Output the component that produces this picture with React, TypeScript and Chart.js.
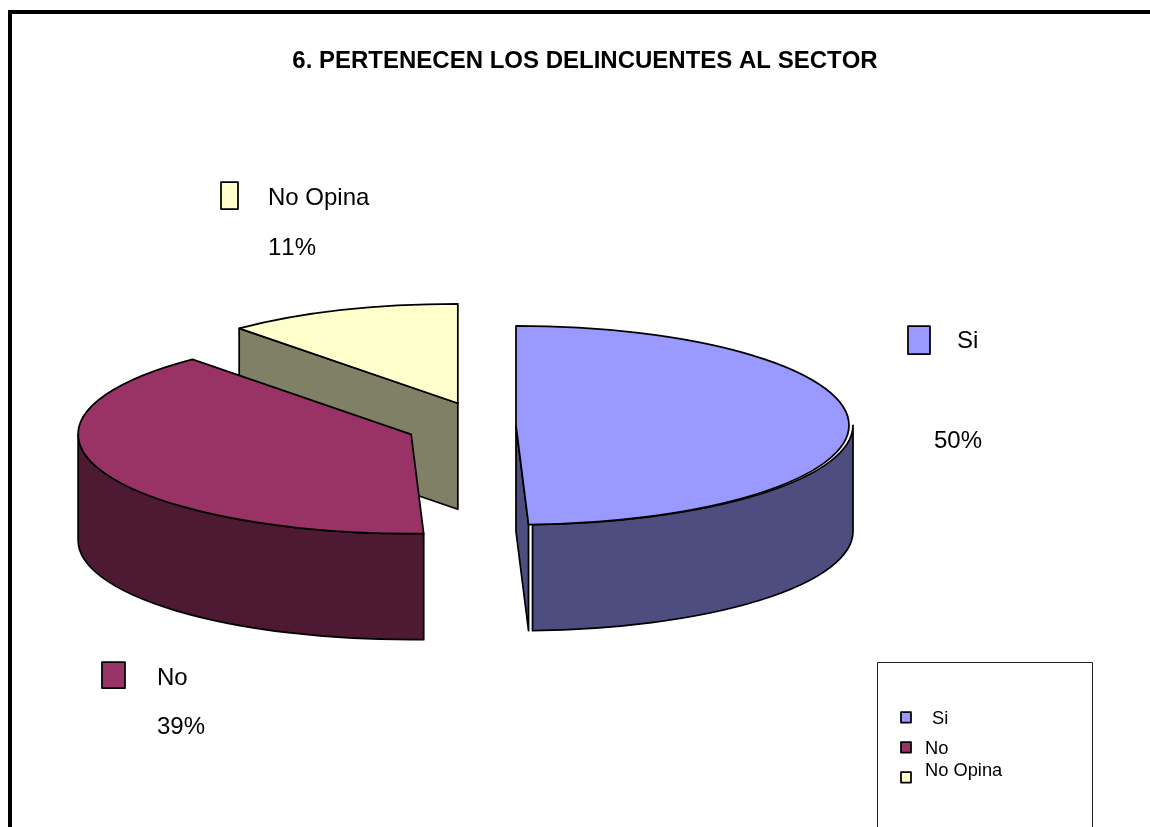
import React, { useEffect, useRef } from "react";
import { Chart, registerables } from "chart.js";

Chart.register(...registerables);

const titleText = "6. PERTENECEN LOS DELINCUENTES AL SECTOR";
const categories = ["Si", "No", "No Opina"];
const values = [49.4, 39.2, 11.4];
const percentLabels = ["50%", "39%", "11%"];
const topColors = ["#9999FF", "#993366", "#FFFFCC"];
const wallColors = ["#4D4D80", "#4D1933", "#808066"];
const explosion = [30.3, 80.2, 79.5];

const FONT = '"Liberation Sans", Arial, sans-serif';
const SQUASH = 0.2985;
const DEPTH = 106;
const RADIUS = 333;
const SI_WALL_SHIFT = 4;
const LINE = 1.75;

const labelLayout = [
  { box: [908, 326, 22, 28], nameX: 957, nameY: 341, pctX: 934, pctY: 441 },
  { box: [102, 662, 23, 26], nameX: 157, nameY: 678, pctX: 157, pctY: 727 },
  { box: [221, 182, 17, 27], nameX: 268, nameY: 198, pctX: 268, pctY: 248 },
];
const legendLayout = [
  { y: 712, textX: 932, textY: 719 },
  { y: 742, textX: 925, textY: 749 },
  { y: 772, textX: 925, textY: 771 },
];

const pie3d = {
  id: "pie3d",
  afterDatasetsUpdate(chart: any) {
    const a = chart.chartArea;
    const cx = (a.left + a.right) / 2;
    const cy = (a.top + a.bottom) / 2;
    chart.getDatasetMeta(0).data.forEach((arc: any, i: number) => {
      const mid = (arc.startAngle + arc.endAngle) / 2;
      arc.x = cx + Math.cos(mid) * explosion[i];
      arc.y = cy + Math.sin(mid) * explosion[i];
    });
  },
  beforeDraw(chart: any) {
    const ctx = chart.ctx;
    ctx.save();
    ctx.fillStyle = "#fff";
    ctx.fillRect(0, 0, chart.width, chart.height);
    ctx.strokeStyle = "#000";
    ctx.lineWidth = 4;
    ctx.strokeRect(10, 12, 1300, 1300);
    ctx.restore();
  },
  beforeDatasetsDraw(chart: any) {
    const ctx = chart.ctx;
    const a = chart.chartArea;
    const cy = (a.top + a.bottom) / 2;
    const sy = (y: number) => cy + (y - cy) * SQUASH;
    const arcs = chart.getDatasetMeta(0).data;
    ctx.save();
    ctx.lineWidth = LINE;
    ctx.strokeStyle = "#000";
    ctx.lineJoin = "round";

    const poly = (pts: number[][], color: string) => {
      ctx.beginPath();
      pts.forEach((p, n) => (n ? ctx.lineTo(p[0], p[1]) : ctx.moveTo(p[0], p[1])));
      ctx.closePath();
      ctx.fillStyle = color;
      ctx.fill();
      ctx.stroke();
    };
    const cutWall = (i: number, angle: number) => {
      const arc = arcs[i];
      const y0 = sy(arc.y);
      const ex = arc.x + Math.cos(angle) * arc.outerRadius;
      const ey = y0 + Math.sin(angle) * arc.outerRadius * SQUASH;
      poly(
        [
          [arc.x, y0],
          [ex, ey],
          [ex, ey + DEPTH],
          [arc.x, y0 + DEPTH],
        ],
        wallColors[i]
      );
    };
    const outerWall = (i: number, from: number, to: number, shift: number) => {
      const arc = arcs[i];
      const x = arc.x + shift;
      const y0 = sy(arc.y);
      const r = arc.outerRadius;
      ctx.beginPath();
      ctx.ellipse(x, y0, r, r * SQUASH, 0, from, to, false);
      ctx.ellipse(x, y0 + DEPTH, r, r * SQUASH, 0, to, from, true);
      ctx.closePath();
      ctx.fillStyle = wallColors[i];
      ctx.fill();
      ctx.stroke();
    };

    // back to front
    cutWall(2, arcs[2].startAngle);
    outerWall(1, arcs[1].startAngle, Math.PI, 0);
    outerWall(0, 0, arcs[0].endAngle, SI_WALL_SHIFT);
    cutWall(0, arcs[0].endAngle);
    ctx.restore();

    // the library's own arcs are drawn in a flattened space
    ctx.save();
    ctx.translate(0, cy);
    ctx.scale(1, SQUASH);
    ctx.translate(0, -cy);
  },
  afterDatasetsDraw(chart: any) {
    const ctx = chart.ctx;
    ctx.restore();
    const a = chart.chartArea;
    const cy = (a.top + a.bottom) / 2;
    const sy = (y: number) => cy + (y - cy) * SQUASH;
    const arcs = chart.getDatasetMeta(0).data;

    ctx.save();
    ctx.lineWidth = LINE;
    ctx.strokeStyle = "#000";
    ctx.lineJoin = "round";
    arcs.forEach((arc: any) => {
      const r = arc.outerRadius;
      ctx.beginPath();
      ctx.moveTo(arc.x, sy(arc.y));
      ctx.ellipse(arc.x, sy(arc.y), r, r * SQUASH, 0, arc.startAngle, arc.endAngle, false);
      ctx.closePath();
      ctx.stroke();
    });

    // title
    ctx.fontKerning = "none";
    ctx.fillStyle = "#000";
    ctx.textBaseline = "middle";
    ctx.textAlign = "center";
    ctx.font = `bold 24px ${FONT}`;
    ctx.fillText(titleText, 585, 61);

    // data labels
    ctx.textAlign = "left";
    ctx.font = `24px ${FONT}`;
    categories.forEach((name, i) => {
      const l = labelLayout[i];
      ctx.fillStyle = topColors[i];
      ctx.fillRect(l.box[0], l.box[1], l.box[2], l.box[3]);
      ctx.lineWidth = LINE;
      ctx.strokeRect(l.box[0], l.box[1], l.box[2], l.box[3]);
      ctx.fillStyle = "#000";
      ctx.fillText(name, l.nameX, l.nameY);
      ctx.fillText(percentLabels[i], l.pctX, l.pctY);
    });

    // legend box
    ctx.lineWidth = 1;
    ctx.strokeStyle = "#222";
    ctx.strokeRect(877.5, 662.5, 215, 300);
    ctx.font = `18.3px ${FONT}`;
    categories.forEach((name, i) => {
      const l = legendLayout[i];
      ctx.fillStyle = topColors[i];
      ctx.fillRect(901, l.y, 10, 10.5);
      ctx.lineWidth = LINE;
      ctx.strokeStyle = "#000";
      ctx.strokeRect(901, l.y, 10, 10.5);
      ctx.fillStyle = "#000";
      ctx.fillText(name, l.textX, l.textY);
    });
    ctx.restore();
  },
};

export default function App() {
  const ref = useRef<HTMLCanvasElement>(null);
  useEffect(() => {
    document.body.style.margin = "0";
    const chart = new Chart(ref.current as HTMLCanvasElement, {
      type: "pie",
      data: {
        labels: categories,
        datasets: [
          {
            data: values,
            backgroundColor: topColors,
            borderWidth: 0,
          },
        ],
      },
      options: {
        animation: false,
        responsive: false,
        radius: RADIUS,
        layout: { padding: { top: 24, right: 178.6, bottom: 0, left: 0 } },
        plugins: {
          legend: { display: false },
          title: { display: false },
          tooltip: { enabled: false },
        },
      } as any,
      plugins: [pie3d],
    });
    return () => chart.destroy();
  }, []);
  return (
    <div style={{ width: 1150, height: 827, overflow: "hidden", background: "#fff" }}>
      <canvas ref={ref} width={1150} height={827} style={{ display: "block" }} />
    </div>
  );
}
